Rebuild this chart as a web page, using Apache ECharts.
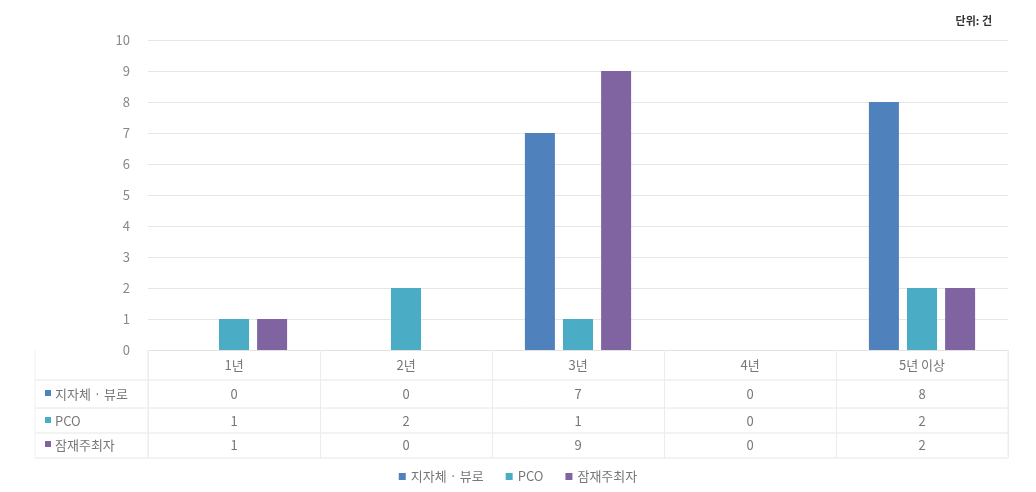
<!DOCTYPE html>
<html><head><meta charset="utf-8">
<script src="https://cdn.jsdelivr.net/npm/echarts@6/dist/echarts.min.js"></script>
<style>html,body{margin:0;padding:0;background:#fff}#c{width:1036px;height:492px}</style>
</head><body><div id="c"></div>
<script>
const categories = ['1년', '2년', '3년', '4년', '5년 이상'];
const seriesNames = ['지자체 · 뷰로', 'PCO', '잠재주최자'];
const govBureau = [0, 0, 7, 0, 8];
const pco = [1, 2, 1, 0, 2];
const potentialHost = [1, 0, 9, 0, 2];
const yTicks = [0, 1, 2, 3, 4, 5, 6, 7, 8, 9, 10];
const unitLabel = '단위: 건';
const colors = ['#4f81bd', '#4bacc6', '#8064a2'];
const allSeries = [govBureau, pco, potentialHost];

const FONT = '"Noto Sans CJK KR", "Noto Sans", sans-serif';
const chart = echarts.init(document.getElementById('c'));
const gridL = 148, gridR = 28, gridT = 40, gridB = 142;

chart.setOption({
  animation: false,
  textStyle: { fontFamily: FONT },
  grid: { left: gridL, right: gridR, top: gridT, bottom: gridB },
  xAxis: {
    type: 'category', data: categories,
    axisLine: { show: true, lineStyle: { color: '#e3e3e3' } },
    axisTick: { show: true, length: 108, interval: 0, lineStyle: { color: '#ececec' } },
    axisLabel: { color: '#777', fontSize: 13, margin: 9 }
  },
  yAxis: {
    type: 'value', min: yTicks[0], max: yTicks[yTicks.length - 1], interval: 1,
    axisLine: { show: false }, axisTick: { show: false },
    axisLabel: { color: '#888', fontSize: 13, margin: 18 },
    splitLine: { lineStyle: { color: '#e6e6e6' } }
  },
  legend: {
    bottom: 4, left: 'center', itemWidth: 7, itemHeight: 7, itemGap: 22,
    icon: 'rect', textStyle: { color: '#777', fontSize: 13, fontFamily: FONT },
    data: seriesNames
  },
  series: seriesNames.map((n, i) => ({
    name: n, type: 'bar', data: allSeries[i], barWidth: 30, barGap: '27%',
    itemStyle: { color: colors[i] }
  }))
});

// data table under the chart
const rowY = [394, 421, 445];
const lineYs = [380, 408, 433, 458];
const g = [];
const x0 = chart.convertToPixel({ xAxisIndex: 0 }, 0);
const x1 = chart.convertToPixel({ xAxisIndex: 0 }, 1);
const step = x1 - x0;
const leftEdge = x0 - step / 2;
const rightEdge = chart.convertToPixel({ xAxisIndex: 0 }, categories.length - 1) + step / 2;
lineYs.forEach(y => g.push({ type: 'line', shape: { x1: 35, y1: y, x2: rightEdge, y2: y }, style: { stroke: '#e6e6e6', lineWidth: 1 } }));
g.push({ type: 'line', shape: { x1: 35, y1: 350, x2: 35, y2: 458 }, style: { stroke: '#f0f0f0', lineWidth: 1 } });
g.push({ type: 'line', shape: { x1: leftEdge, y1: 350, x2: leftEdge, y2: 458 }, style: { stroke: '#ececec', lineWidth: 1 } });
g.push({ type: 'line', shape: { x1: rightEdge, y1: 350, x2: rightEdge, y2: 458 }, style: { stroke: '#ececec', lineWidth: 1 } });
seriesNames.forEach((n, r) => {
  g.push({ type: 'rect', shape: { x: 45, y: rowY[r] - 4, width: 6, height: 6 }, style: { fill: colors[r] } });
  g.push({ type: 'text', x: 55, y: rowY[r], style: { text: n, fill: '#777', font: '13px ' + FONT, textVerticalAlign: 'middle' } });
  allSeries[r].forEach((v, c) => {
    const cx = chart.convertToPixel({ xAxisIndex: 0 }, c);
    g.push({ type: 'text', x: cx, y: rowY[r], style: { text: String(v), fill: '#777', font: '13px ' + FONT, textAlign: 'center', textVerticalAlign: 'middle' } });
  });
});
g.push({ type: 'text', right: 44, top: 15, style: { text: unitLabel, fill: '#333', font: 'bold 11px ' + FONT } });
chart.setOption({ graphic: g });
</script></body></html>
